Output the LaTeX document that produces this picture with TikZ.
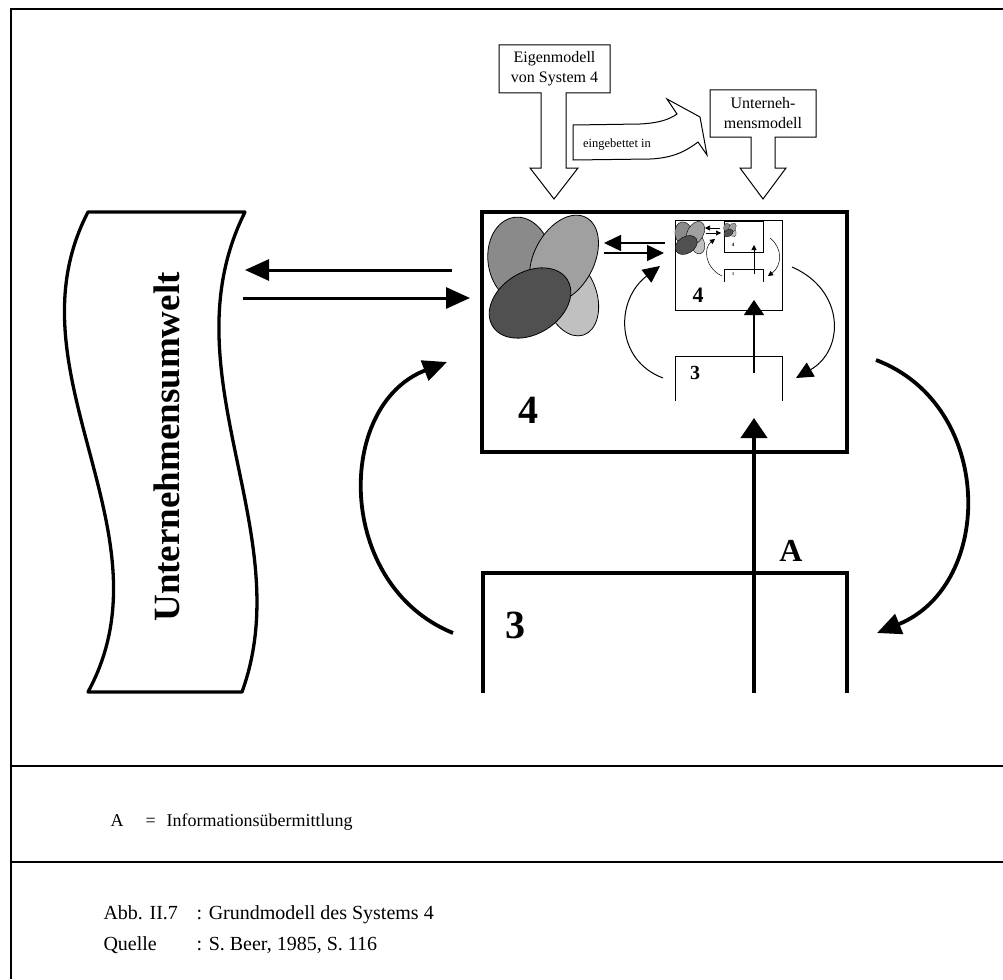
\documentclass[tikz,border=0pt]{standalone}
\usepackage{fontspec}
\setmainfont{Liberation Serif}
\usetikzlibrary{arrows.meta,calc}
\definecolor{blattA}{HTML}{8A8A8A}
\definecolor{blattB}{HTML}{A0A0A0}
\definecolor{blattC}{HTML}{C0C0C0}
\definecolor{blattD}{HTML}{505050}

\begin{document}
\begin{tikzpicture}[x=1pt,y=-1pt,
	rahmen/.style={line width=2.3pt},
	dick/.style={line width=3.8pt},
	duenn/.style={line width=1pt},
	box/.style={draw,inner sep=0pt},
	gross/.style={font=\fontsize{40}{40}\selectfont\bfseries},
	text16/.style={font=\fontsize{16}{20}\selectfont,align=center},
	pfeil/.style={-{Triangle[length=24pt,width=21pt]}},
	pfeilk/.style={-{Triangle[length=17pt,width=16pt]}},
	pfeilm/.style={-{Triangle[length=5pt,width=5pt]}}]
\useasboundingbox (0,0) rectangle (1003,979);
% Rahmen und Trennlinien
\draw[rahmen] (11,979) -- (11,9) -- (1003,9);
\draw[rahmen] (11,766) -- (1003,766) (11,862) -- (1003,862);

% Unternehmensumwelt
\draw[line width=3.3pt,line join=round] (88,212) -- (245,212) .. controls (165,372) and (300,532) .. (242,692)
	-- (88,692) .. controls (175,532) and (5,372) .. (88,212) -- cycle;
\node[rotate=90,font=\fontsize{37}{40}\selectfont\bfseries] (umwelt) at (167,447) {Unternehmensumwelt};

% Eigenmodell und Unternehmensmodell
\draw[duenn] (499,45) -- (610,45) -- (610,93) -- (566,93) -- (566,168) -- (578,168) -- (554,199)
	-- (530,168) -- (541,168) -- (541,93) -- (499,93) -- cycle;
\node[text16] (eigen) at (554.5,69) {Eigenmodell\\von System 4};
\draw[duenn] (710,90) -- (816,90) -- (816,137) -- (775,137) -- (775,168) -- (786,168) -- (763,199)
	-- (740,168) -- (751,168) -- (751,137) -- (710,137) -- cycle;
\node[text16] (umod) at (763,113.5) {Unterneh-\\mensmodell};
\draw[duenn] (573,125) -- (640,124) .. controls (660,123) and (670,119) .. (677,114) -- (667,99) -- (700,117)
	-- (707,155) -- (698,142) .. controls (685,152) and (672,158) .. (650,159) -- (573,160) -- cycle;
\node[font=\fontsize{12.5}{14}\selectfont] (eingeb) at (617,145) {eingebettet in};

% System 4 und 3
\node[box,dick,minimum width=365pt,minimum height=240pt] (sys4) at (664.5,332) {};
\node[gross] (l4) at (528,410) {4};
\draw[dick] (483,693) -- (483,573) -- (847,573) -- (847,693);
\node[gross] (l3) at (515,625) {3};
\node[font=\fontsize{32}{32}\selectfont\bfseries] (la) at (791,551) {A};

% Modell in System 4
\node[box,duenn,minimum width=107pt,minimum height=90pt] (sys4k) at (728.5,265) {};
\node[font=\fontsize{22}{22}\selectfont\bfseries] (l4k) at (698,295) {4};
\draw[duenn] (675,401) -- (675,356) -- (782,356) -- (782,401);
\node[font=\fontsize{20}{20}\selectfont\bfseries] (l3k) at (695,373) {3};
\node[box,line width=0.6pt,minimum width=39pt,minimum height=31pt] (sys4m) at (743.5,236.5) {};
\node[font=\fontsize{5}{5}\selectfont\bfseries] (l4m) at (733,245) {4};
\draw[line width=0.5pt] (724,282) -- (724,269) -- (763,269) -- (763,282);
\node[font=\fontsize{4}{4}\selectfont\bfseries] (l3m) at (733,274) {3};

% Ellipsen
\foreach \cx/\cy/\f/\lw in {544/277/1/0.8, 690/238/0.27/0.4, 730/230/0.115/0.2}{
	\begin{scope}[shift={(\cx,\cy)},scale=\f,line width=\lw pt]
	\filldraw[fill=blattA] (-24,-17) circle [x radius=32,y radius=43,rotate=8];
	\filldraw[fill=blattC] (27,20) circle [x radius=26,y radius=40,rotate=18];
	\filldraw[fill=blattB] (20,-18) circle [x radius=30,y radius=47,rotate=-28];
	\filldraw[fill=blattD] (-14,26) circle [x radius=44,y radius=31,rotate=32];
	\end{scope}
}

% Pfeile
\coordinate (ho1) at (452,270); \coordinate (ho2) at (245,270);
\coordinate (hu1) at (243,298); \coordinate (hu2) at (470,298);
\draw[pfeil,line width=3pt] (ho1) -- (ho2);
\draw[pfeil,line width=3pt] (hu1) -- (hu2);
\coordinate (bl1) at (453,633); \coordinate (bl2) at (447,362);
\coordinate (br1) at (876,360); \coordinate (br2) at (877,633);
\draw[pfeil,dick] (bl1) .. controls (335,585) and (335,405) .. (bl2);
\draw[pfeil,dick] (br1) .. controls (995,405) and (995,585) .. (br2);
\coordinate (a1) at (754,693); \coordinate (a2) at (754,418);
\draw[-{Triangle[length=20pt,width=26pt]},line width=4pt] (a1) -- (a2);

\coordinate (ko1) at (665,243); \coordinate (ko2) at (604,243);
\coordinate (ku1) at (604,253); \coordinate (ku2) at (664,253);
\draw[pfeilk,line width=1.5pt] (ko1) -- (ko2);
\draw[pfeilk,line width=1.5pt] (ku1) -- (ku2);
\coordinate (kl1) at (663,378); \coordinate (kl2) at (660,266);
\coordinate (kr1) at (792,267); \coordinate (kr2) at (796,378);
\draw[pfeilk,duenn] (kl1) .. controls (615,360) and (615,300) .. (kl2);
\draw[pfeilk,duenn] (kr1) .. controls (845,290) and (845,350) .. (kr2);
\coordinate (k1) at (754,373); \coordinate (k2) at (754,300);
\draw[-{Triangle[length=15pt,width=20pt]},line width=1.2pt] (k1) -- (k2);

\coordinate (mo1) at (720,228); \coordinate (mo2) at (705,228);
\coordinate (mu1) at (706,233); \coordinate (mu2) at (721,233);
\draw[pfeilm,line width=0.6pt] (mo1) -- (mo2);
\draw[pfeilm,line width=0.6pt] (mu1) -- (mu2);
\coordinate (ml1) at (722,276); \coordinate (ml2) at (715,239);
\coordinate (mr1) at (770,238); \coordinate (mr2) at (768,276);
\draw[pfeilm,line width=0.5pt] (ml1) .. controls (705,268) and (703,248) .. (ml2);
\draw[pfeilm,line width=0.5pt] (mr1) .. controls (783,248) and (782,266) .. (mr2);
\coordinate (m1) at (754,274); \coordinate (m2) at (754,245);
\draw[pfeilm,line width=0.5pt] (m1) -- (m2);

% Legende
\node[anchor=base west,font=\fontsize{18}{20}\selectfont] (lga) at (107,826) {A};
\node[anchor=base west,font=\fontsize{18}{20}\selectfont] (lgb) at (142,826) {=};
\node[anchor=base west,font=\fontsize{18}{20}\selectfont] (lgc) at (163,826) {Informationsübermittlung};
\node[anchor=base west,font=\fontsize{20}{24}\selectfont] (abb) at (100,919) {Abb. II.7};
\node[anchor=base west,font=\fontsize{20}{24}\selectfont] (titel) at (193,919) {: Grundmodell des Systems 4};
\node[anchor=base west,font=\fontsize{20}{24}\selectfont] (quelle) at (100,950) {Quelle};
\node[anchor=base west,font=\fontsize{20}{24}\selectfont] (quelletxt) at (193,950) {: S. Beer, 1985, S. 116};
\end{tikzpicture}
\end{document}
